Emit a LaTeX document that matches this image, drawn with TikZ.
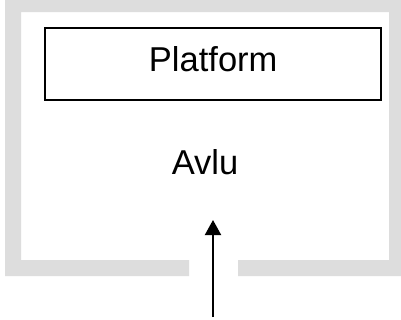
\documentclass[tikz,border=0pt]{standalone}
\usepackage{fontspec}
\setmainfont{Liberation Sans}
\usetikzlibrary{arrows.meta}
\definecolor{wallgray}{RGB}{221,221,221}
\tikzset{
  px/.style={x=1bp,y=-1bp},
  wall/.style={fill=wallgray,draw=none},
  label/.style={font=\fontsize{34.5bp}{40bp}\selectfont,text=black,inner sep=0pt,anchor=base},
  platformbox/.style={draw=black,line width=2bp,fill=white,minimum width=336bp,minimum height=72bp,inner sep=0pt},
  entry/.style={draw=black,line width=2bp,-{Triangle[length=15bp,width=16bp]}}
}
\begin{document}
\begin{tikzpicture}[px]
\useasboundingbox (0,0) rectangle (401,320);
\fill[white] (0,0) rectangle (401,320);
\fill[wall] (5,0) -- (401,0) -- (401,276) -- (238,276) -- (238,260) -- (389,260) -- (389,12) -- (21,12) -- (21,260) -- (189,260) -- (189,276) -- (5,276) -- cycle;
\node[platformbox] (platform) at (213,63.7) {};
\node[label] (platformtext) at (213.2,71) {Platform};
\node[label] (avlu) at (205,174) {Avlu};
\coordinate (start) at (213,317);
\coordinate (tip) at (213,220);
\draw[entry] (start) -- (tip);
\end{tikzpicture}
\end{document}
